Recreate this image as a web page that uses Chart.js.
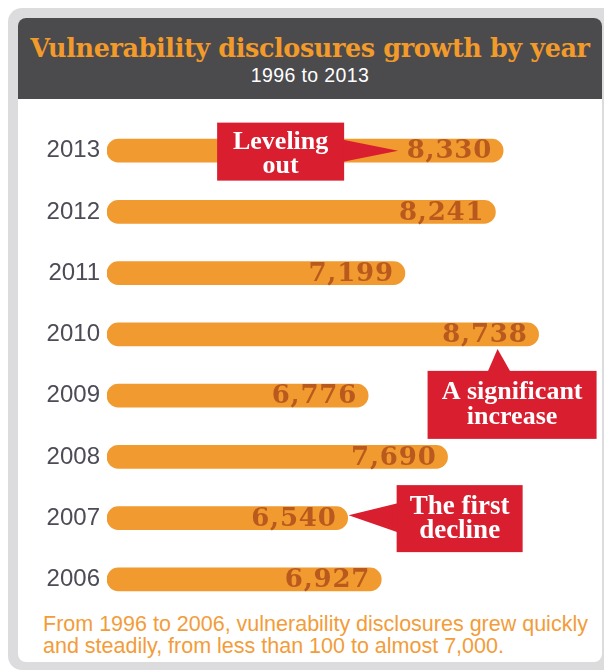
<!DOCTYPE html>
<html lang="en">
<head>
  <meta charset="UTF-8">
  <title>Vulnerability disclosures growth by year</title>
  <script src="https://cdn.jsdelivr.net/npm/chart.js"></script>
  <style>
    html, body { margin: 0; padding: 0; background: #fff; }
    body { width: 604px; height: 671px; position: relative; overflow: hidden; }
    .frame {
      position: absolute; left: 8px; top: 8px; width: 610px; height: 662px;
      background: #dcdcdf; border-radius: 14px;
    }
    .panel {
      position: absolute; left: 18px; top: 18px; width: 584px; height: 644px;
      background: #fff; border-radius: 8px; overflow: hidden;
    }
    .header {
      position: absolute; left: 0; top: 0; width: 100%; height: 81px;
      background: #4b4a4d; text-align: center;
    }
    .header h1 {
      margin: 0; padding-top: 15px; font: bold 25.5px/30px "DejaVu Serif", serif;
      color: #f29a2a; letter-spacing: -0.4px; white-space: nowrap;
    }
    .header p {
      margin: 1px 0 0 0; font: 19.5px "Liberation Sans", Arial, sans-serif; color: #fff;
      letter-spacing: 0.4px;
    }
    .note {
      position: absolute; left: 43px; top: 613px; margin: 0;
      font: 21.5px/22px "Liberation Sans", Arial, sans-serif; color: #f29d3a;
      white-space: nowrap;
    }
    #chart { position: absolute; left: 0; top: 0; }
  </style>
</head>
<body>
  <div class="frame"></div>
  <div class="panel">
    <div class="header">
      <h1>Vulnerability disclosures growth by year</h1>
      <p>1996 to 2013</p>
    </div>
  </div>
  <p class="note">From 1996 to 2006, vulnerability disclosures grew quickly<br>and steadily, from less than 100 to almost 7,000.</p>
  <canvas id="chart" width="604" height="671"></canvas>

  <script>
    // data
    const years = ['2013', '2012', '2011', '2010', '2009', '2008', '2007', '2006'];
    const disclosures = [8330, 8241, 7199, 8738, 6776, 7690, 6540, 6927];
    const calloutYears = ['2013', '2010', '2007'];
    const calloutText = [['Leveling', 'out'], ['A significant', 'increase'], ['The first', 'decline']];

    // axis starts well above zero, bars are drawn from there
    const axisMin = 3770, axisMax = 9330;

    const fmt = v => v.toLocaleString('en-US');

    // red box + pointer triangle
    function drawCallout(ctx, box, tri, lines, size, lineY) {
      ctx.save();
      ctx.fillStyle = '#d81e2f';
      ctx.fillRect(box.x, box.y, box.w, box.h);
      ctx.beginPath();
      ctx.moveTo(tri[0][0], tri[0][1]);
      ctx.lineTo(tri[1][0], tri[1][1]);
      ctx.lineTo(tri[2][0], tri[2][1]);
      ctx.closePath();
      ctx.fill();
      ctx.fillStyle = '#fff';
      ctx.font = 'bold ' + size + 'px "Liberation Serif", serif';
      ctx.textAlign = 'center';
      ctx.textBaseline = 'alphabetic';
      lines.forEach((t, i) => ctx.fillText(t, box.x + box.w / 2, box.y + lineY[i]));
      ctx.restore();
    }

    const labelsPlugin = {
      id: 'labels',
      afterDatasetsDraw(chart) {
        const ctx = chart.ctx;
        const bars = chart.getDatasetMeta(0).data;
        ctx.save();
        ctx.font = 'bold 26px "DejaVu Serif", serif';
        ctx.letterSpacing = '0.8px';
        ctx.textAlign = 'right';
        ctx.textBaseline = 'middle';
        ctx.fillStyle = '#ba591e';
        bars.forEach((bar, i) => {
          ctx.fillText(fmt(disclosures[i]), bar.x - 11, bar.y + 1);
        });
        ctx.restore();

        // Leveling out
        let b = bars[years.indexOf(calloutYears[0])];
        let tx = b.x - 105, ty = b.y;
        drawCallout(ctx, { x: tx - 181, y: ty - 28, w: 127, h: 58 },
          [[tx - 55, ty - 11], [tx, ty], [tx - 55, ty + 11]],
          calloutText[0], 26, [26, 50]);

        // A significant increase
        b = bars[years.indexOf(calloutYears[1])];
        tx = b.x - 41; ty = b.y + b.height / 2 + 3;
        drawCallout(ctx, { x: tx - 70, y: ty + 22, w: 169, h: 68 },
          [[tx - 10, ty + 23], [tx, ty], [tx + 13, ty + 23]],
          calloutText[1], 26, [28, 53]);

        // The first decline
        b = bars[years.indexOf(calloutYears[2])];
        tx = b.x + 1; ty = b.y - 3;
        drawCallout(ctx, { x: tx + 48, y: b.y - 33, w: 126, h: 67 },
          [[tx + 49, ty - 12], [tx, ty], [tx + 49, ty + 17]],
          calloutText[2], 27, [29, 53]);
      }
    };

    new Chart(document.getElementById('chart'), {
      type: 'bar',
      data: {
        labels: years,
        datasets: [{
          data: disclosures.map(v => [axisMin, v]),
          backgroundColor: '#f09a2f',
          borderRadius: 12,
          borderSkipped: false,
          barThickness: 23
        }]
      },
      options: {
        indexAxis: 'y',
        responsive: false,
        devicePixelRatio: 1,
        animation: false,
        layout: { padding: { top: 120, bottom: 61, left: 0, right: 14 } },
        plugins: { legend: { display: false }, tooltip: { enabled: false } },
        scales: {
          x: { display: false, beginAtZero: false, min: axisMin, max: axisMax },
          y: {
            afterFit: s => { s.width = 107; },
            grid: { display: false, drawTicks: false },
            border: { display: false },
            ticks: {
              padding: 7,
              color: '#4b4c56',
              font: { family: '"Liberation Sans", Arial, sans-serif', size: 24 }
            }
          }
        }
      },
      plugins: [labelsPlugin]
    });
  </script>
</body>
</html>
